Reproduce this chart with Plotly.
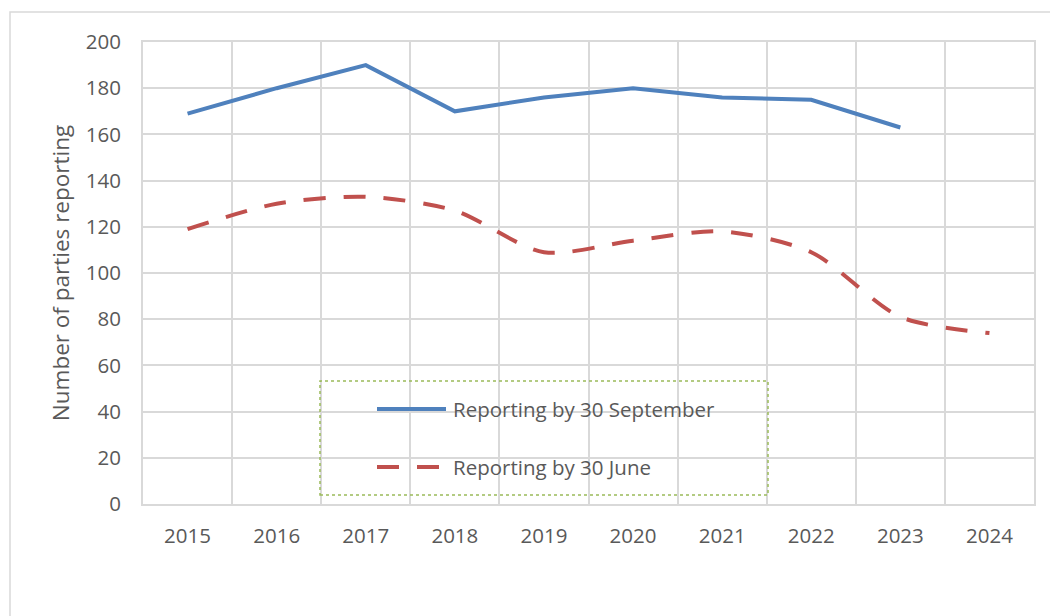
import plotly.graph_objects as go

years = ["2015", "2016", "2017", "2018", "2019", "2020", "2021", "2022", "2023", "2024"]
sept_years = years[:9]
sept_values = [169, 180, 190, 170, 176, 180, 176, 175, 163]
june_values = [119, 130, 133, 127, 109, 114, 118, 109, 81, 74]
y_ticks = list(range(0, 201, 20))

BLUE = "#4F81BD"
RED = "#C0504D"
GRID = "#D9D9D9"
TXT = "#595959"
FONT = "'Open Sans', 'Noto Sans', sans-serif"

W, H = 1050, 616
L, R, T, B = 143, 16, 42, 112
pw, ph = W - L - R, H - T - B

def px(x):
    return (x - L) / pw

def py(y):
    return (H - B - y) / ph

fig = go.Figure()
fig.add_trace(go.Scatter(x=sept_years, y=sept_values, mode="lines",
                         name="Reporting by 30 September",
                         line=dict(color=BLUE, width=4), showlegend=False))
fig.add_trace(go.Scatter(x=years, y=june_values, mode="lines",
                         name="Reporting by 30 June",
                         line=dict(color=RED, width=4, dash="22px,18px",
                                   shape="spline", smoothing=0.8),
                         showlegend=False))

shapes = []
# outer chart border
shapes.append(dict(type="rect", xref="paper", yref="paper",
                   x0=px(10), x1=px(1060), y0=py(630), y1=py(12),
                   line=dict(color=GRID, width=1.5), layer="below"))
# legend box
shapes.append(dict(type="rect", xref="paper", yref="paper",
                   x0=px(320), x1=px(768), y0=py(495), y1=py(381),
                   line=dict(color="#9BBB59", width=1.5, dash="dot"),
                   fillcolor="rgba(0,0,0,0)"))
# legend samples
shapes.append(dict(type="line", xref="paper", yref="paper",
                   x0=px(377), x1=px(446), y0=py(409), y1=py(409),
                   line=dict(color=BLUE, width=4)))
shapes.append(dict(type="line", xref="paper", yref="paper",
                   x0=px(377), x1=px(446), y0=py(467), y1=py(467),
                   line=dict(color=RED, width=4, dash="22px,18px")))

annotations = [
    dict(xref="paper", yref="paper", x=px(451), y=py(409), xanchor="left",
         yanchor="middle", showarrow=False, text="Reporting by 30 September",
         font=dict(size=20.5, color=TXT, family=FONT)),
    dict(xref="paper", yref="paper", x=px(451), y=py(467), xanchor="left",
         yanchor="middle", showarrow=False, text="Reporting by 30 June",
         font=dict(size=20.5, color=TXT, family=FONT)),
]

fig.update_layout(
    width=W, height=H,
    margin=dict(l=L, r=R, t=T, b=B, autoexpand=False),
    paper_bgcolor="white", plot_bgcolor="white",
    font=dict(family=FONT, size=20.5, color=TXT),
    shapes=shapes, annotations=annotations,
    showlegend=False,
)
fig.update_xaxes(type="category", categoryorder="array", categoryarray=years,
                 range=[-0.5, 9.5], tickson="boundaries", showgrid=True,
                 gridcolor=GRID, gridwidth=2, showline=True, linecolor=GRID,
                 linewidth=2, mirror=True, ticks="", ticklabelstandoff=12,
                 tickfont=dict(size=20.5, color=TXT), zeroline=False)
fig.update_yaxes(range=[0, 200], tickvals=y_ticks, showgrid=True,
                 gridcolor=GRID, gridwidth=2, showline=True, linecolor=GRID,
                 linewidth=2, mirror=True, ticks="", ticklabelstandoff=16,
                 tickfont=dict(size=20.5, color=TXT), zeroline=False,
                 title=dict(text="Number of parties reporting", standoff=10,
                            font=dict(size=22.5, color=TXT)))

fig.write_html("out.html", config={"displayModeBar": False},
               post_script="document.body.style.margin='0px';")
